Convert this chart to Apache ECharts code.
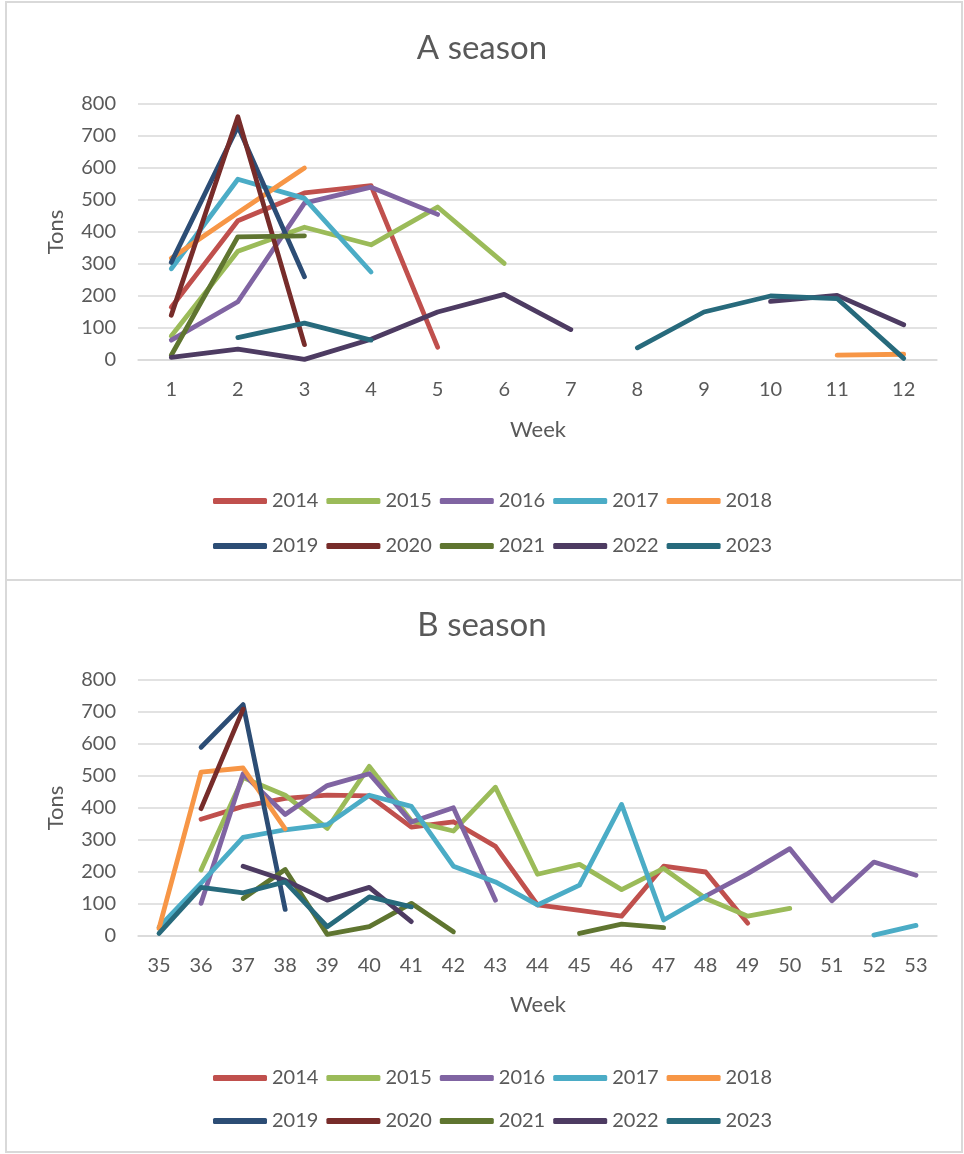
<!DOCTYPE html>
<html>
<head>
<meta charset="utf-8">
<script src="https://cdn.jsdelivr.net/npm/echarts@6/dist/echarts.min.js"></script>
<style>
  html, body { margin: 0; padding: 0; background: #ffffff; }
  #chart { width: 964px; height: 1154px; }
</style>
</head>
<body>
<div id="chart"></div>
<script>
// Weekly tonnage per year, two seasons
const weeksA = ['1','2','3','4','5','6','7','8','9','10','11','12'];
const weeksB = ['35','36','37','38','39','40','41','42','43','44','45','46','47','48','49','50','51','52','53'];
const years = ['2014','2015','2016','2017','2018','2019','2020','2021','2022','2023'];
const yTicks = [0, 800, 100];

// A season, weeks 1..12
const a2014 = [165, 435, 522, 545, 40, null, null, null, null, null, null, null];
const a2015 = [75, 340, 415, 360, 478, 302, null, null, null, null, null, null];
const a2016 = [62, 182, 490, 540, 455, null, null, null, null, null, null, null];
const a2017 = [285, 565, 505, 275, null, null, null, null, null, null, null, null];
const a2018 = [318, 460, 600, null, null, null, null, null, null, null, 15, 18];
const a2019 = [305, 730, 260, null, null, null, null, null, null, null, null, null];
const a2020 = [140, 760, 48, null, null, null, null, null, null, null, null, null];
const a2021 = [15, 385, 388, null, null, null, null, null, null, null, null, null];
const a2022 = [8, 34, 2, 65, 150, 205, 95, null, null, 183, 202, 110];
const a2023 = [null, 70, 115, 62, null, null, null, 38, 150, 200, 192, 5];

// B season, weeks 35..53
const b2014 = [null, 365, 405, 430, 440, 438, 340, 357, 280, 97, 80, 62, 218, 200, 40, null, null, null, null];
const b2015 = [null, 206, 495, 440, 336, 530, 360, 328, 465, 193, 224, 145, 211, 117, 62, 86, null, null, null];
const b2016 = [null, 102, 507, 380, 470, 507, 356, 401, 112, null, null, null, null, 125, 195, 273, 110, 231, 190];
const b2017 = [28, 165, 308, 332, 348, 440, 405, 218, 169, 97, 159, 411, 50, 125, null, null, null, 3, 33];
const b2018 = [24, 512, 525, 335, null, null, null, null, null, null, null, null, null, null, null, null, null, null, null];
const b2019 = [null, 590, 723, 83, null, null, null, null, null, null, null, null, null, null, null, null, null, null, null];
const b2020 = [null, 398, 709, null, null, null, null, null, null, null, null, null, null, null, null, null, null, null, null];
const b2021 = [null, null, 117, 208, 5, 29, 102, 13, null, null, 8, 37, 26, null, null, null, null, null, null];
const b2022 = [null, null, 218, 174, 112, 152, 45, null, null, null, null, null, null, null, null, null, null, null, null];
const b2023 = [8, 152, 135, 169, 29, 122, 91, null, null, null, null, null, null, null, null, null, null, null, null];

const seasonA = [a2014, a2015, a2016, a2017, a2018, a2019, a2020, a2021, a2022, a2023];
const seasonB = [b2014, b2015, b2016, b2017, b2018, b2019, b2020, b2021, b2022, b2023];

const colors = ['#C0504D', '#9BBB59', '#8064A2', '#4BACC6', '#F79646',
                '#2C4D75', '#772C2A', '#5F7530', '#4D3B62', '#276A7C'];

const FONT = 'Lato, "Open Sans", sans-serif';
const TEXT = '#595959';
const GRID = '#d9d9d9';

function xAxisFor(cats, gridIndex) {
  return {
    type: 'category', gridIndex, data: cats, boundaryGap: true,
    axisTick: { show: false },
    axisLine: { lineStyle: { color: GRID, width: 1.5 } },
    axisLabel: { color: TEXT, fontSize: 20, fontFamily: FONT, margin: 20, interval: 0 }
  };
}
function yAxisFor(gridIndex) {
  return {
    type: 'value', gridIndex, min: yTicks[0], max: yTicks[1], interval: yTicks[2],
    axisLine: { show: false }, axisTick: { show: false },
    splitLine: { lineStyle: { color: GRID, width: 1.5 } },
    axisLabel: { color: TEXT, fontSize: 20, fontFamily: FONT, margin: 22 }
  };
}
function seriesFor(data, axisIndex) {
  return data.map((vals, i) => ({
    name: years[i], type: 'line', xAxisIndex: axisIndex, yAxisIndex: axisIndex,
    data: vals, symbol: 'none', connectNulls: false,
    lineStyle: { color: colors[i], width: 4.8, cap: 'round', join: 'round' },
    itemStyle: { color: colors[i] },
    emphasis: { disabled: true }
  }));
}
function legendRow(names, top) {
  return {
    data: names, top: top, left: 208, orient: 'horizontal',
    icon: 'roundRect', itemWidth: 54, itemHeight: 6, itemGap: 8, itemTextGap: 4,
    textStyle: { color: TEXT, fontSize: 20, fontFamily: FONT },
    selectedMode: false
  };
}
function axisTitle(text, x, y, rotate) {
  return {
    type: 'text', x: x, y: y, rotation: rotate ? Math.PI / 2 : 0,
    style: { text: text, fill: TEXT, font: '22px ' + FONT, align: 'center', verticalAlign: 'middle' }
  };
}

const chart = echarts.init(document.getElementById('chart'), null, { renderer: 'canvas' });
chart.setOption({
  animation: false,
  backgroundColor: '#ffffff',
  color: colors,
  title: [
    { text: 'A season', left: 'center', top: 27, textStyle: { color: TEXT, fontSize: 33, fontWeight: 'normal', fontFamily: FONT } },
    { text: 'B season', left: 'center', top: 604, textStyle: { color: TEXT, fontSize: 33, fontWeight: 'normal', fontFamily: FONT } }
  ],
  grid: [
    { left: 138, right: 27, top: 104, height: 256 },
    { left: 138, right: 27, top: 680, height: 256 }
  ],
  xAxis: [xAxisFor(weeksA, 0), xAxisFor(weeksB, 1)],
  yAxis: [yAxisFor(0), yAxisFor(1)],
  legend: [
    legendRow(years.slice(0, 5), 486),
    legendRow(years.slice(5), 531),
    legendRow(years.slice(0, 5), 1063),
    legendRow(years.slice(5), 1106)
  ],
  graphic: [
    { type: 'rect', shape: { x: 6, y: 2, width: 956, height: 578 }, style: { fill: 'none', stroke: GRID, lineWidth: 2 }, silent: true },
    { type: 'rect', shape: { x: 6, y: 580, width: 956, height: 572 }, style: { fill: 'none', stroke: GRID, lineWidth: 2 }, silent: true },
    axisTitle('Tons', 56, 232, true),
    axisTitle('Week', 538, 430, false),
    axisTitle('Tons', 56, 808, true),
    axisTitle('Week', 538, 1005, false)
  ],
  series: [].concat(seriesFor(seasonA, 0), seriesFor(seasonB, 1))
});
</script>
</body>
</html>
